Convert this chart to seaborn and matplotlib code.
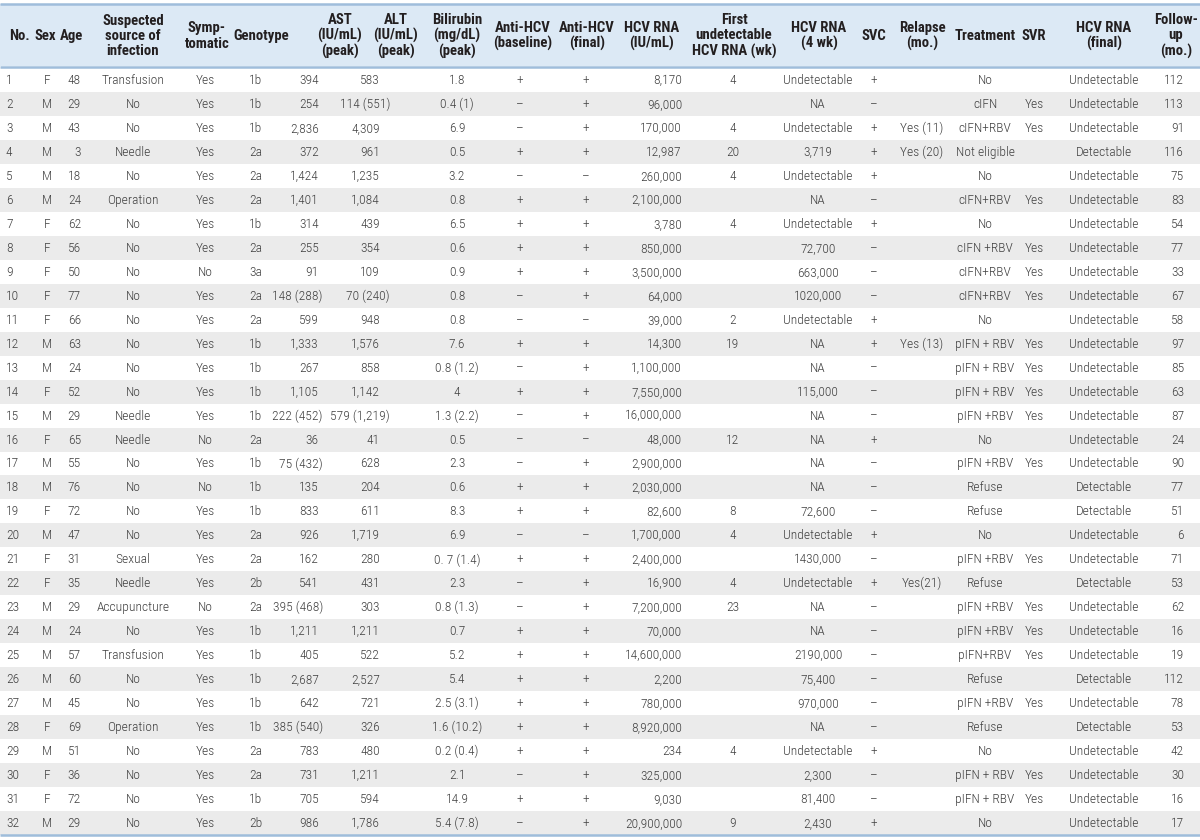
import matplotlib
matplotlib.use("Agg")
import matplotlib.pyplot as plt
import seaborn as sns
import pandas as pd
from matplotlib.colors import ListedColormap
from matplotlib.patches import Rectangle

# ---------------- data ----------------
headers = ["No.", "Sex", "Age", "Suspected\nsource of\ninfection", "Symp-\ntomatic",
           "Genotype", "AST\n(IU/mL)\n(peak)", "ALT\n(IU/mL)\n(peak)", "Bilirubin\n(mg/dL)\n(peak)",
           "Anti-HCV\n(baseline)", "Anti-HCV\n(final)", "HCV RNA\n(IU/mL)",
           "First\nundetectable\nHCV RNA (wk)", "HCV RNA\n(4 wk)", "SVC", "Relapse\n(mo.)",
           "Treatment", "SVR", "HCV RNA\n(final)", "Follow-\nup\n(mo.)"]

no_ = ["1", "2", "3", "4", "5", "6", "7", "8", "9", "10", "11", "12", "13", "14", "15", "16",
       "17", "18", "19", "20", "21", "22", "23", "24", "25", "26", "27", "28", "29", "30", "31", "32"]
sex = ["F", "M", "M", "M", "M", "M", "F", "F", "F", "F", "F", "M", "M", "F", "M", "F",
       "M", "M", "F", "M", "F", "F", "M", "M", "M", "M", "M", "F", "M", "F", "F", "M"]
age = ["48", "29", "43", "3", "18", "24", "62", "56", "50", "77", "66", "63", "24", "52", "29", "65",
       "55", "76", "72", "47", "31", "35", "29", "24", "57", "60", "45", "69", "51", "36", "72", "29"]
source = ["Transfusion", "No", "No", "Needle", "No", "Operation", "No", "No", "No", "No", "No", "No",
          "No", "No", "Needle", "Needle", "No", "No", "No", "No", "Sexual", "Needle", "Accupuncture",
          "No", "Transfusion", "No", "No", "Operation", "No", "No", "No", "No"]
symptomatic = ["Yes", "Yes", "Yes", "Yes", "Yes", "Yes", "Yes", "Yes", "No", "Yes", "Yes", "Yes",
               "Yes", "Yes", "Yes", "No", "Yes", "No", "Yes", "Yes", "Yes", "Yes", "No", "Yes",
               "Yes", "Yes", "Yes", "Yes", "Yes", "Yes", "Yes", "Yes"]
genotype = ["1b", "1b", "1b", "2a", "2a", "2a", "1b", "2a", "3a", "2a", "2a", "1b", "1b", "1b", "1b",
            "2a", "1b", "1b", "1b", "2a", "2a", "2b", "2a", "1b", "1b", "1b", "1b", "1b", "2a", "2a",
            "1b", "2b"]
ast = ["394", "254", "2,836", "372", "1,424", "1,401", "314", "255", "91", "148 (288)", "599",
       "1,333", "267", "1,105", "222 (452)", "36", "75 (432)", "135", "833", "926", "162", "541",
       "395 (468)", "1,211", "405", "2,687", "642", "385 (540)", "783", "731", "705", "986"]
alt = ["583", "114 (551)", "4,309", "961", "1,235", "1,084", "439", "354", "109", "70 (240)", "948",
       "1,576", "858", "1,142", "579 (1,219)", "41", "628", "204", "611", "1,719", "280", "431",
       "303", "1,211", "522", "2,527", "721", "326", "480", "1,211", "594", "1,786"]
bilirubin = ["1.8", "0.4 (1)", "6.9", "0.5", "3.2", "0.8", "6.5", "0.6", "0.9", "0.8", "0.8", "7.6",
             "0.8 (1.2)", "4", "1.3 (2.2)", "0.5", "2.3", "0.6", "8.3", "6.9", "0. 7 (1.4)", "2.3",
             "0.8 (1.3)", "0.7", "5.2", "5.4", "2.5 (3.1)", "1.6 (10.2)", "0.2 (0.4)", "2.1", "14.9",
             "5.4 (7.8)"]
anti_base = ["+", "–", "–", "+", "–", "+", "+", "+", "+", "–", "–", "+", "–", "+", "–", "–",
             "–", "+", "+", "–", "+", "–", "–", "+", "+", "+", "+", "+", "+", "–", "+", "–"]
anti_final = ["+", "+", "+", "+", "–", "+", "+", "+", "+", "+", "–", "+", "+", "+", "+", "–",
              "+", "+", "+", "–", "+", "+", "+", "+", "+", "+", "+", "+", "+", "+", "+", "+"]
rna = ["8,170", "96,000", "170,000", "12,987", "260,000", "2,100,000", "3,780", "850,000",
       "3,500,000", "64,000", "39,000", "14,300", "1,100,000", "7,550,000", "16,000,000", "48,000",
       "2,900,000", "2,030,000", "82,600", "1,700,000", "2,400,000", "16,900", "7,200,000", "70,000",
       "14,600,000", "2,200", "780,000", "8,920,000", "234", "325,000", "9,030", "20,900,000"]
first_undet = ["4", "", "4", "20", "4", "", "4", "", "", "", "2", "19", "", "", "", "12",
               "", "", "8", "4", "", "4", "23", "", "", "", "", "", "4", "", "", "9"]
rna_4wk = ["Undetectable", "NA", "Undetectable", "3,719", "Undetectable", "NA", "Undetectable",
           "72,700", "663,000", "1020,000", "Undetectable", "NA", "NA", "115,000", "NA", "NA", "NA",
           "NA", "72,600", "Undetectable", "1430,000", "Undetectable", "NA", "NA", "2190,000",
           "75,400", "970,000", "NA", "Undetectable", "2,300", "81,400", "2,430"]
svc = ["+", "–", "+", "+", "+", "–", "+", "–", "–", "–", "+", "+", "–", "–", "–", "+",
       "–", "–", "–", "+", "–", "+", "–", "–", "–", "–", "–", "–", "+", "–", "–", "+"]
relapse = ["", "", "Yes (11)", "Yes (20)", "", "", "", "", "", "", "", "Yes (13)", "", "", "", "",
           "", "", "", "", "", "Yes(21)", "", "", "", "", "", "", "", "", "", ""]
treatment = ["No", "cIFN", "cIFN+RBV", "Not eligible", "No", "cIFN+RBV", "No", "cIFN +RBV",
             "cIFN+RBV", "cIFN+RBV", "No", "pIFN + RBV", "pIFN + RBV", "pIFN + RBV", "pIFN +RBV",
             "No", "pIFN +RBV", "Refuse", "Refuse", "No", "pIFN +RBV", "Refuse", "pIFN +RBV",
             "pIFN +RBV", "pIFN+RBV", "Refuse", "pIFN +RBV", "Refuse", "No", "pIFN + RBV",
             "pIFN + RBV", "No"]
svr = ["", "Yes", "Yes", "", "", "Yes", "", "Yes", "Yes", "Yes", "", "Yes", "Yes", "Yes", "Yes", "",
       "Yes", "", "", "", "Yes", "", "Yes", "Yes", "Yes", "", "Yes", "", "", "Yes", "Yes", ""]
rna_final = ["Undetectable", "Undetectable", "Undetectable", "Detectable", "Undetectable",
             "Undetectable", "Undetectable", "Undetectable", "Undetectable", "Undetectable",
             "Undetectable", "Undetectable", "Undetectable", "Undetectable", "Undetectable",
             "Undetectable", "Undetectable", "Detectable", "Detectable", "Undetectable",
             "Undetectable", "Detectable", "Undetectable", "Undetectable", "Undetectable",
             "Detectable", "Undetectable", "Detectable", "Undetectable", "Undetectable",
             "Undetectable", "Undetectable"]
follow_up = ["112", "113", "91", "116", "75", "83", "54", "77", "33", "67", "58", "97", "85", "63",
             "87", "24", "90", "77", "51", "6", "71", "53", "62", "16", "19", "112", "78", "53",
             "42", "30", "16", "17"]

columns = [no_, sex, age, source, symptomatic, genotype, ast, alt, bilirubin, anti_base,
           anti_final, rna, first_undet, rna_4wk, svc, relapse, treatment, svr, rna_final, follow_up]
table = pd.DataFrame({h: c for h, c in zip(headers, columns)})

# ---------------- layout (pixels) ----------------
# (header_x, value_x, value_align, x for entries with a bracketed value)
layout = [
    (19, 6, "left", None),
    (45, 47, "center", None),
    (71, 81, "right", None),
    (133, 133, "center", None),
    (207, 205, "center", None),
    (261, 256, "center", None),
    (340, 319, "right", 323),
    (396, 380, "right", 390),
    (457, 457, "center", None),
    (523, 520, "center", None),
    (587, 586, "center", None),
    (652, 682, "right", None),
    (734, 733, "center", None),
    (819, 818, "center", None),
    (874, 874, "center", None),
    (922, 922, "center", None),
    (985, 985, "center", None),
    (1034, 1034, "center", None),
    (1104, 1104, "center", None),
    (1176, 1184, "right", None),
]

sns.set_theme(style="white")
plt.rcParams['font.family'] = ['Roboto Condensed', 'Liberation Sans Narrow', 'Roboto', 'DejaVu Sans']

W, H = 1200, 840
fig = plt.figure(figsize=(12, 8.4), dpi=100)
fig.patch.set_facecolor("white")

n = len(table)
head_top, head_bot = 4, 66
body_top, body_bot = 68, 835
rh = (body_bot - body_top) / n

# zebra stripes drawn with seaborn heatmap
stripe = pd.DataFrame({"band": [i % 2 for i in range(n)]})
ax_bg = fig.add_axes([0, (H - body_bot) / H, 1, (body_bot - body_top) / H])
sns.heatmap(stripe, ax=ax_bg, cmap=ListedColormap(["#ffffff", "#ebebeb"]), vmin=0, vmax=1,
            cbar=False, xticklabels=False, yticklabels=False)
ax_bg.set_axis_off()

ax = fig.add_axes([0, 0, 1, 1], facecolor="none")
ax.set_xlim(0, W)
ax.set_ylim(H, 0)
ax.set_axis_off()

ax.add_patch(Rectangle((0, head_top), W, head_bot - head_top, facecolor="#dce9f5", edgecolor="none"))
line_c = "#9fbddb"
for yy in (head_top, head_bot + 1, body_bot):
    ax.plot([0, W], [yy, yy], color=line_c, lw=1.8, solid_capstyle="butt")

hy = (head_top + head_bot) / 2 + 1
for h, (hx, vx, al, px) in zip(headers, layout):
    ax.text(hx, hy, h, ha="center", va="center", fontsize=10.6, fontweight="bold",
            color="#231f20", linespacing=1.12)

body_c = "#404040"
for h, (hx, vx, al, px) in zip(headers, layout):
    for i, val in enumerate(table[h]):
        if not val:
            continue
        y = body_top + (i + 0.5) * rh + 0.5
        x = px if (px is not None and "(" in val) else vx
        ax.text(x, y, val, ha=al, va="center", fontsize=9.7, color=body_c, fontweight="light")

fig.savefig("out.png", dpi=100, facecolor="white")
